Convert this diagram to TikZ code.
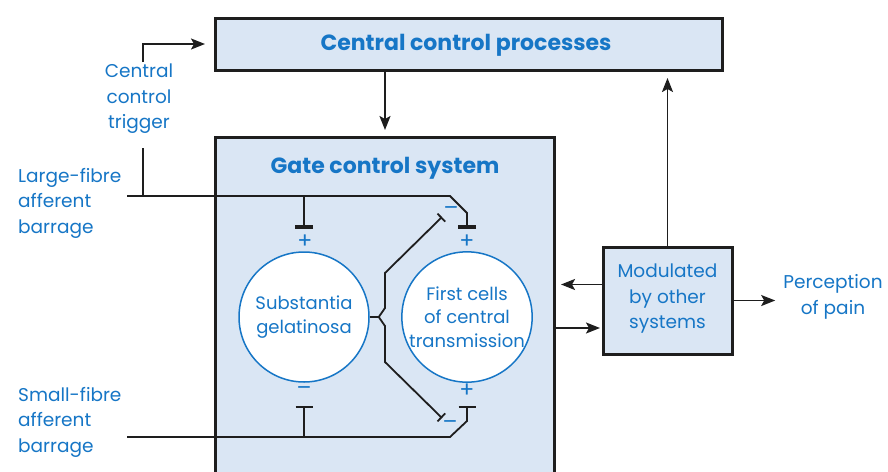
\documentclass[tikz,border=0pt]{standalone}
\usepackage{fontspec}
\setmainfont{Poppins}
\usetikzlibrary{arrows.meta,calc}
\definecolor{tblue}{RGB}{22,118,198}
\definecolor{bfill}{RGB}{218,230,244}
\definecolor{lk}{RGB}{30,30,30}
\begin{document}
\begin{tikzpicture}[x=1pt,y=-1pt,
  lbl/.style={text=tblue, font=\fontsize{18.5}{25.5}\selectfont, inner sep=0pt},
  conn/.style={line width=1.8pt, draw=lk},
  arr/.style={conn, -{Stealth[length=14pt,width=11pt,inset=3pt]}},
  teethick/.style={-{Bar[width=18pt,line width=4.5pt]}},
  teethin/.style={-{Bar[width=17pt,line width=2.2pt]}},
  teediag/.style={-{Bar[width=11pt,line width=1.8pt]}},
  boxst/.style={draw=lk, line width=3pt, fill=bfill, outer sep=0pt, inner sep=0pt},
  cell/.style={circle, draw=tblue, line width=1.5pt, fill=white, minimum size=130pt, inner sep=0pt, text=tblue, align=center, font=\fontsize{18}{23.5}\selectfont},
  sign/.style={text=tblue, font=\fontsize{22}{22}\selectfont, inner sep=0pt},
  ttl/.style={text=tblue, font=\fontsize{22}{22}\selectfont\bfseries, inner sep=0pt}
]
\useasboundingbox (0,0) rectangle (888,471);
\fill[white] (0,0) rectangle (888,471);

% boxes
\node[boxst, minimum width=507pt, minimum height=52pt, anchor=north west] (ccp) at (215,18) {};
\node[ttl] (ccpt) at (466,45) {Central control processes};
\node[boxst, minimum width=339pt, minimum height=350pt, anchor=north west] (gcs) at (215,137) {};
\node[ttl] (gcst) at (385,168) {Gate control system};
\node[boxst, minimum width=129pt, minimum height=107pt, anchor=north west] (mod) at (603,247) {};
\node[lbl, align=center] (modt) at (667.5,299) {Modulated\\by other\\systems};

% cells
\node[cell] (sg) at (304,317) {Substantia\\gelatinosa};
\node[cell] (fc) at (467,317) {First cells\\of central\\transmission};

% labels
\node[lbl, align=center] (trig) at (139,99) {Central\\control\\trigger};
\node[lbl, align=left, anchor=west] (lfab) at (18,203) {Large-fibre\\afferent\\barrage};
\node[lbl, align=left, anchor=west] (sfab) at (18,422) {Small-fibre\\afferent\\barrage};
\node[lbl, align=center] (pain) at (833,297) {Perception\\of pain};

% coordinates
\coordinate (lfs) at (127,196);
\coordinate (sfs) at (127,437);
\coordinate (tj) at (143,196);
\coordinate (tb) at (143,148);
\coordinate (tt) at (143,62);

% central control trigger
\draw[conn] (tj) -- (tb);
\draw[arr, shorten >=10pt] (tt) |- (ccp.west);

% central -> gate
\draw[arr, shorten >=7pt] (ccp.south -| gcst) -- (gcs.north -| gcst);
% modulated -> central
\draw[arr, shorten >=8pt] (mod.north) -- (mod.north |- ccp.south);
% modulated -> gate
\draw[arr, shorten >=7pt] ([yshift=16pt]mod.west) -- ([yshift=16pt]mod.west -| gcs.east);
% gate -> modulated
\draw[arr, shorten >=3pt] ([yshift=-27.5pt]mod.west -| gcs.east) -- ([yshift=-27.5pt]mod.west);
% modulated -> pain
\draw[arr, shorten >=8pt] (mod.east) -- (mod.east -| pain.west);

% large fibre
\draw[conn, teethick] (lfs) -- (450,196) -- (467,213) -- ([yshift=22pt]fc.north);
\draw[conn, teethick] (sg.north |- lfs) -- ([yshift=22pt]sg.north);
% small fibre
\draw[conn, teethin] (sfs) -- (450,437) -- (467,421) -- ([yshift=-23pt]fc.south);
\draw[conn, teethin] (sg.south |- sfs) -- ([yshift=-23pt]sg.south);

% fork from substantia gelatinosa
\draw[conn] (sg.east) -- ++(9,0) coordinate (fk);
\draw[conn, teediag] (fk) -- (385,308) -- (385,273) -- (442,217);
\draw[conn, teediag] (fk) -- (385,326) -- (385,362) -- (442,418);

% signs
\node[sign] (s1) at (305,242) {+};
\node[sign] (s2) at (467,242) {+};
\node[sign] (s3) at (304,391) {–};
\node[sign] (s4) at (467,391) {+};
\node[sign] (s5) at (451,211) {–};
\node[sign] (s6) at (450,425) {–};
\end{tikzpicture}
\end{document}
